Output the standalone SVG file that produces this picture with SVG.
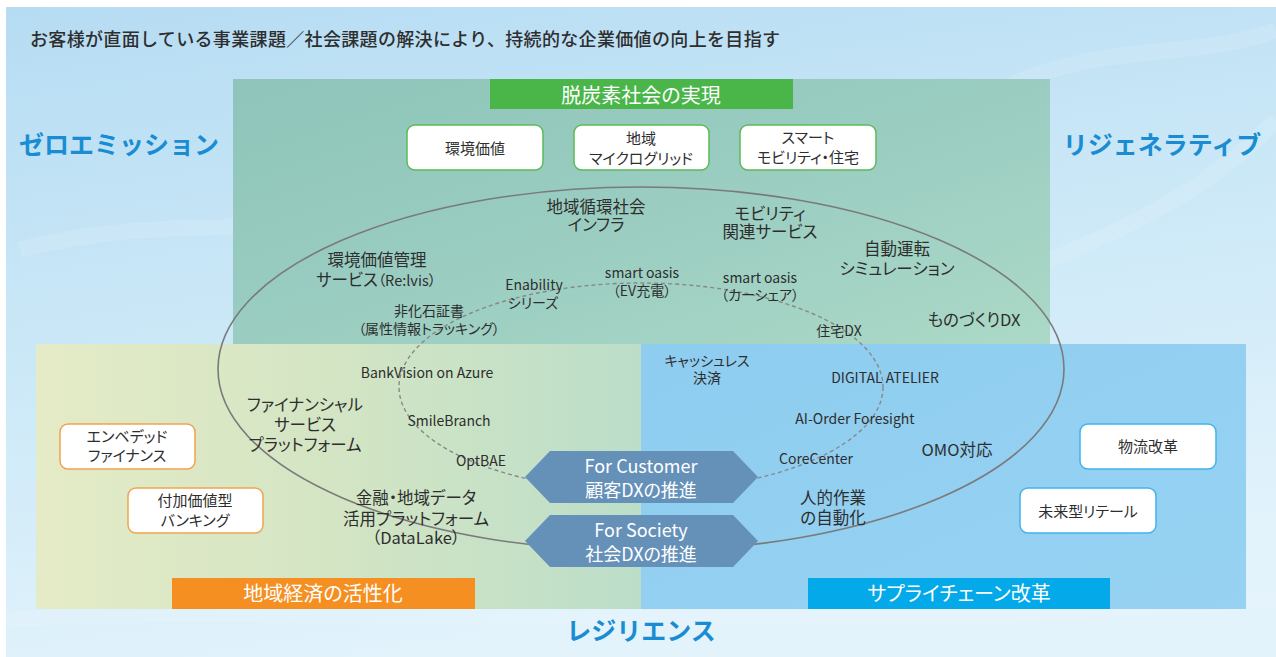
<svg xmlns="http://www.w3.org/2000/svg" width="1276" height="657" viewBox="0 0 1276 657">
<defs>
<style>
text{font-family:"Noto Sans CJK JP","Noto Sans CJK SC",sans-serif;fill:#2e2e2e;font-feature-settings:"palt" 1;}
.t{font-size:16.5px;text-anchor:middle;}
.s{font-size:14px;text-anchor:middle;}
.b{font-size:15px;text-anchor:middle;}
.hd{font-size:20px;fill:#fff;text-anchor:middle;}
.side{font-size:25px;font-weight:bold;fill:#1a8dd2;font-feature-settings:normal;}
.hx{font-size:18px;fill:#fff;text-anchor:middle;}
.bx{fill:#fff;stroke-width:1.5;}
.g{stroke:#5cba58;}
.o{stroke:#f2a24e;}
.bl{stroke:#3fb5ea;}
.hex{fill:#6591b9;}
</style>
<linearGradient id="bg" x1="0" y1="0" x2="0.3" y2="1">
<stop offset="0" stop-color="#b6dcf3"/>
<stop offset="0.5" stop-color="#cbe8f7"/>
<stop offset="1" stop-color="#e2f3fc"/>
</linearGradient>
<linearGradient id="gp" x1="0" y1="0" x2="1" y2="1">
<stop offset="0" stop-color="#8ec4ba"/>
<stop offset="0.6" stop-color="#9dcfc2"/>
<stop offset="1" stop-color="#acd9c7"/>
</linearGradient>
<linearGradient id="lp" x1="0" y1="0" x2="1" y2="0">
<stop offset="0" stop-color="#e5ebc6"/>
<stop offset="0.5" stop-color="#d3e5c4"/>
<stop offset="1" stop-color="#bcdec9"/>
</linearGradient>
<linearGradient id="rp" x1="0" y1="0" x2="1" y2="1">
<stop offset="0" stop-color="#8ecdf0"/>
<stop offset="1" stop-color="#97d2f2"/>
</linearGradient>
</defs>
<rect x="0" y="0" width="1276" height="657" fill="#fff"/>
<rect x="6" y="7" width="1270" height="650" fill="url(#bg)"/>
<g fill="none" stroke="#fff" stroke-opacity="0.12" stroke-width="16">
<path d="M20 250 C 200 200, 400 260, 600 180"/>
<path d="M1000 280 C 1100 240, 1200 200, 1276 120"/>
<path d="M1000 90 C 1100 40, 1200 60, 1276 30"/>
<path d="M0 620 C 300 600, 700 640, 1276 600"/>
</g>
<rect x="233" y="79" width="817" height="265" fill="url(#gp)"/>
<rect x="36" y="344" width="605" height="265" fill="url(#lp)"/>
<rect x="641" y="344" width="605" height="265" fill="url(#rp)"/>
<text x="30" y="46" style="font-size:18px;font-weight:500;font-feature-settings:normal" textLength="750" lengthAdjust="spacing">お客様が直面している事業課題／社会課題の解決により、持続的な企業価値の向上を目指す</text>
<text class="side" x="119" y="154" text-anchor="middle">ゼロエミッション</text>
<text class="side" x="1162" y="154" text-anchor="middle">リジェネラティブ</text>
<text class="side" x="641" y="640" text-anchor="middle">レジリエンス</text>
<g id="header-green"><rect x="490" y="79" width="303" height="30" fill="#4ab649"/><text class="hd" x="641" y="103">脱炭素社会の実現</text></g>
<g id="header-orange"><rect x="172" y="578" width="303" height="31" fill="#f58f22"/><text class="hd" x="323" y="601">地域経済の活性化</text></g>
<g id="header-blue"><rect x="808" y="578" width="302" height="31" fill="#03a9e9"/><text class="hd" x="959" y="601">サプライチェーン改革</text></g>
<g id="rings" fill="none">
<ellipse cx="641" cy="369" rx="423" ry="182" stroke="#7a7a7a" stroke-width="1.6"/>
<ellipse cx="641" cy="387" rx="242" ry="104" stroke="#888" stroke-width="1.4" stroke-dasharray="4 3"/>
</g>
<g id="box-kankyo"><rect class="bx g" x="407" y="125" width="136" height="45" rx="8"/><text class="b" x="475" y="153.5">環境価値</text></g>
<g id="box-micro"><rect class="bx g" x="574" y="125" width="135" height="45" rx="8"/><text class="b" x="641" y="144">地域</text><text class="b" x="641" y="164">マイクログリッド</text></g>
<g id="box-smart"><rect class="bx g" x="740" y="125" width="136" height="45" rx="8"/><text class="b" x="808" y="143">スマート</text><text class="b" x="808" y="163">モビリティ・住宅</text></g>
<g id="box-embedded"><rect class="bx o" x="60" y="424" width="135" height="45" rx="8"/><text class="b" x="127" y="442">エンベデッド</text><text class="b" x="127" y="461">ファイナンス</text></g>
<g id="box-banking"><rect class="bx o" x="128" y="488" width="135" height="45" rx="8"/><text class="b" x="195" y="505.5">付加価値型</text><text class="b" x="195" y="526">バンキング</text></g>
<g id="box-logistics"><rect class="bx bl" x="1080" y="424" width="136" height="45" rx="8"/><text class="b" x="1148" y="451.5">物流改革</text></g>
<g id="box-retail"><rect class="bx bl" x="1020" y="488" width="136" height="45" rx="8"/><text class="b" x="1088" y="516.5">未来型リテール</text></g>
<g id="n-infra"><text class="t" x="596" y="212.5">地域循環社会</text><text class="t" x="596" y="231">インフラ</text></g>
<g id="n-mobility"><text class="t" x="770" y="219.5">モビリティ</text><text class="t" x="770" y="237.5">関連サービス</text></g>
<g id="n-autodrive"><text class="t" x="897" y="255">自動運転</text><text class="t" x="897" y="274.5">シミュレーション</text></g>
<g id="n-relvis"><text class="t" x="377" y="265.5">環境価値管理</text><text class="t" x="376" y="285.5">サービス<tspan style="font-size:14.5px">（Re:lvis）</tspan></text></g>
<g id="n-enability"><text class="s" x="534" y="290">Enability</text><text class="s" x="533" y="307.5">シリーズ</text></g>
<g id="n-oasis-ev"><text class="s" x="642" y="278">smart oasis</text><text class="s" x="642" y="296">（EV充電）</text></g>
<g id="n-oasis-car"><text class="s" x="760" y="283">smart oasis</text><text class="s" x="760" y="300">（カーシェア）</text></g>
<g id="n-hikaseki"><text class="s" x="429" y="316">非化石証書</text><text class="s" x="429" y="333.5">（属性情報トラッキング）</text></g>
<g id="n-jutaku"><text class="s" x="839" y="336">住宅DX</text></g>
<g id="n-monozukuri"><text class="t" x="974" y="326">ものづくりDX</text></g>
<g id="n-bankvision"><text class="s" x="427" y="378">BankVision on Azure</text></g>
<g id="n-financial"><text class="t" x="305" y="411">ファイナンシャル</text><text class="t" x="305" y="431">サービス</text><text class="t" x="305" y="451">プラットフォーム</text></g>
<g id="n-smilebranch"><text class="s" x="449" y="426">SmileBranch</text></g>
<g id="n-optbae"><text class="s" x="481" y="466">OptBAE</text></g>
<g id="n-datalake"><text class="t" x="416" y="503.5">金融・地域データ</text><text class="t" x="416" y="525">活用プラットフォーム</text><text class="t" x="416" y="544">（DataLake）</text></g>
<g id="n-cashless"><text class="s" x="707" y="366">キャッシュレス</text><text class="s" x="707" y="383">決済</text></g>
<g id="n-atelier"><text class="s" x="885" y="383">DIGITAL ATELIER</text></g>
<g id="n-aiorder"><text class="s" x="855" y="424">AI-Order Foresight</text></g>
<g id="n-omo"><text class="t" x="957" y="456">OMO対応</text></g>
<g id="n-corecenter"><text class="s" x="816" y="464">CoreCenter</text></g>
<g id="n-jinteki"><text class="t" x="833" y="503.5">人的作業</text><text class="t" x="833" y="523.5">の自動化</text></g>
<g id="hex-customer"><polygon class="hex" points="525,477 550,451 733,451 758,477 733,503 550,503"/><text class="hx" x="641" y="473">For Customer</text><text class="hx" x="641" y="496.5">顧客DXの推進</text></g>
<g id="hex-society"><polygon class="hex" points="525,541 550,515 733,515 758,541 733,567 550,567"/><text class="hx" x="641" y="537">For Society</text><text class="hx" x="641" y="560.5">社会DXの推進</text></g>
</svg>
